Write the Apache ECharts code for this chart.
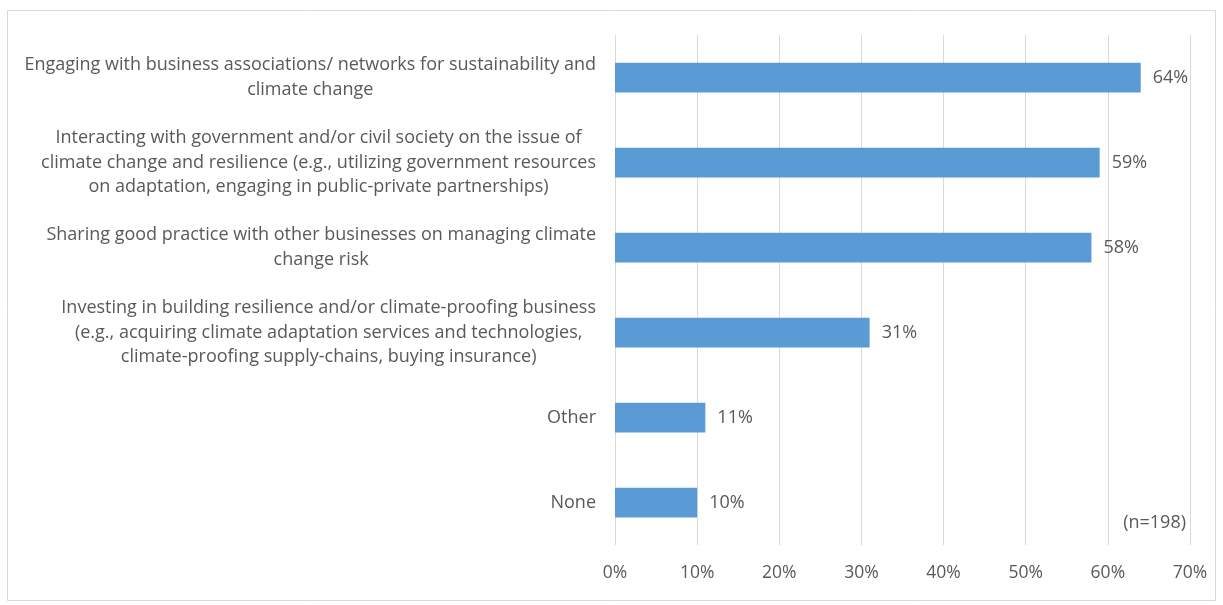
<!DOCTYPE html>
<html><head><meta charset="utf-8">
<script src="https://cdn.jsdelivr.net/npm/echarts@6/dist/echarts.min.js"></script>
<style>html,body{margin:0;padding:0;background:#fff}#c{width:1223px;height:605px}</style>
</head><body><div id="c"></div>
<script>
const categories = [
  "Engaging with business associations/ networks for sustainability and\nclimate change",
  "Interacting with government and/or civil society on the issue of\nclimate change and resilience (e.g., utilizing government resources\non adaptation, engaging in public-private partnerships)",
  "Sharing good practice with other businesses on managing climate\nchange risk",
  "Investing in building resilience and/or climate-proofing business\n(e.g., acquiring climate adaptation services and technologies,\nclimate-proofing supply-chains, buying insurance)",
  "Other",
  "None"
];
const values = [64, 59, 58, 31, 11, 10];
const xTicks = [0, 10, 20, 30, 40, 50, 60, 70];
const note = "(n=198)";

const chart = echarts.init(document.getElementById('c'));
const FONT = '"Open Sans", "Noto Sans", sans-serif';
chart.setOption({
  animation: false,
  graphic: [
    {type: 'rect', shape: {x: 7.5, y: 10.5, width: 1208, height: 590}, style: {fill: 'none', stroke: '#d9d9d9', lineWidth: 1}},
    {type: 'text', right: 37, top: 514, style: {text: note, fontSize: 18, fontFamily: FONT, fill: '#595959'}}
  ],
  grid: {left: 615, right: 33, top: 35, bottom: 60},
  xAxis: {
    type: 'value', min: 0, max: 70, interval: 10,
    axisLine: {show: false}, axisTick: {show: false},
    splitLine: {lineStyle: {color: '#d9d9d9', width: 1}},
    axisLabel: {formatter: v => xTicks.includes(v) ? v + '%' : '', color: '#595959', fontSize: 17.5, fontFamily: FONT, margin: 19}
  },
  yAxis: {
    type: 'category', inverse: true, data: categories,
    axisLine: {show: false}, axisTick: {show: false},
    axisLabel: {
      color: '#595959', fontSize: 18, fontFamily: FONT, margin: 19, align: 'right', lineHeight: 24.5,
      formatter: v => v.split('\n').map(s => '{c|' + s + '}').join('\n'),
      rich: {c: {align: 'center', color: '#595959', fontSize: 18, fontFamily: FONT, lineHeight: 24.5}}
    }
  },
  series: [{
    type: 'bar', data: values, barWidth: '35%',
    itemStyle: {color: '#5b9bd5'},
    label: {show: true, position: 'right', distance: 12, formatter: p => p.value + '%', color: '#595959', fontSize: 18, fontFamily: FONT}
  }]
});
</script></body></html>
